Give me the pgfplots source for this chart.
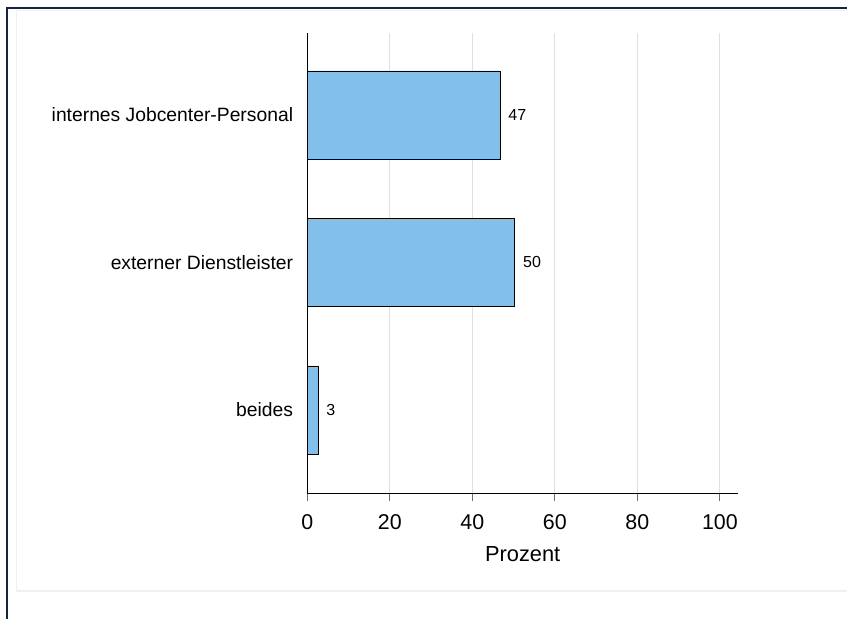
\documentclass[border=0pt]{standalone}
\usepackage{fontspec}
\setmainfont{Liberation Sans}
\usepackage{pgfplots}
\pgfplotsset{compat=1.18}
\definecolor{barblue}{RGB}{130,191,234}
\definecolor{framec}{RGB}{22,36,64}
\definecolor{gridc}{RGB}{224,224,224}
\definecolor{tickc}{RGB}{110,110,110}
\begin{document}
\begin{tikzpicture}[x=1bp,y=1bp]
\useasboundingbox (0,0) rectangle (847,619);
\draw[framec, line width=2bp] (7,0) -- (7,610.5) -- (847,610.5);
\draw[gray!12, line width=1.5bp] (847,608.5) -- (16.5,608.5) -- (16.5,28) -- (847,28);
\begin{axis}[
  at={(307.3bp,125.7bp)}, anchor=south west,
  scale only axis, width=430.7bp, height=460.3bp,
  xmin=0, xmax=104.4, ymin=0.435, ymax=3.556,
  axis x line*=bottom, axis y line*=left,
  axis line style={-, line width=1bp, black},
  xtick={0,20,...,100}, ytick={1,2,3},
  yticklabels={beides, externer Dienstleister, internes Jobcenter-Personal},
  xmajorgrids, grid style={gridc, line width=1.2bp},
  xtick align=outside, ytick align=outside,
  major tick length=8bp,
  xtick style={draw=tickc, line width=1bp},
  ytick style={draw=none},
  /pgf/number format/assume math mode=true,
  xticklabel style={font=\fontsize{21.4bp}{24bp}\selectfont, inner sep=0pt, yshift=-13bp},
  yticklabel style={font=\fontsize{19.3bp}{22bp}\selectfont, inner sep=0pt, xshift=-6bp},
  xlabel={Prozent},
  xlabel style={font=\fontsize{21.8bp}{24bp}\selectfont, yshift=-13bp},
  clip=false,
]
\addplot[xbar, fill=barblue, draw=black, line width=0.8bp, bar width=88bp,
  point meta=x,
  nodes near coords={\pgfmathprintnumber[fixed,precision=0]{\pgfplotspointmeta}},
  nodes near coords align=horizontal,
  every node near coord/.style={font=\fontsize{16bp}{18bp}\selectfont, anchor=west, inner sep=0pt, xshift=8bp, text=black}]
  coordinates {(2.6,1) (50.3,2) (46.7,3)};
\end{axis}
\end{tikzpicture}
\end{document}
